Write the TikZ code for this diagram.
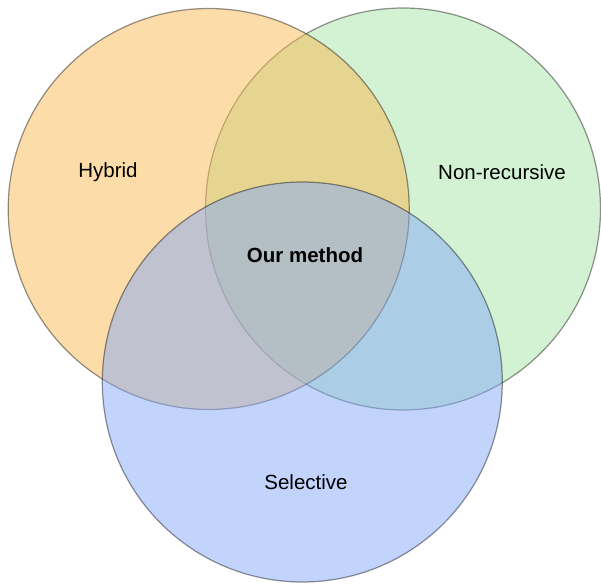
\documentclass[tikz,border=0pt]{standalone}
\usepackage{fontspec}
\setmainfont{Liberation Sans}
\usepackage{xcolor}
\usepackage{tikz}
\usetikzlibrary{shapes.geometric}

\definecolor{hybridcol}{RGB}{249,185,81}
\definecolor{nonreccol}{RGB}{167,227,167}
\definecolor{selectcol}{RGB}{133,169,249}

\begin{document}
\begin{tikzpicture}[x=1pt, y=-1pt,
    set/.style={draw=black, draw opacity=0.42, line width=1.2pt, fill opacity=0.5, inner sep=0pt},
    setlabel/.style={font=\fontsize{20.5}{24}\selectfont, text=black}]
    \useasboundingbox (0,0) rectangle (601,583);

    % Sets (green below, orange, then blue on top)
    \node[set, ellipse, fill=nonreccol, minimum width=395pt, minimum height=402pt] (nonrec) at (403,209) {};
    \node[set, circle, fill=hybridcol, minimum size=401pt] (hybrid) at (208.7,209) {};
    \node[set, circle, fill=selectcol, minimum size=400pt] (select) at (302.3,382) {};

    % Labels
    \node[setlabel] (hybridlbl) at (108,172) {Hybrid};
    \node[setlabel] (nonreclbl) at (502,172) {Non-recursive};
    \node[setlabel] (selectlbl) at (306,482) {Selective};
    \node[setlabel, font=\fontsize{20.5}{24}\selectfont\bfseries] (ours) at (305,255) {Our method};
\end{tikzpicture}
\end{document}
